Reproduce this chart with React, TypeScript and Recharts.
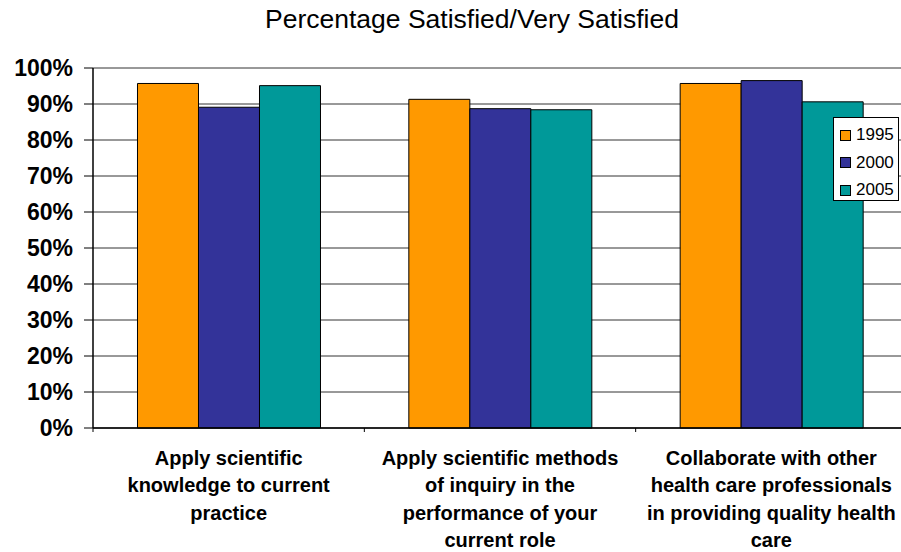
import React from 'react';
import { BarChart, Bar, XAxis, YAxis, CartesianGrid, Legend } from 'recharts';

const categories = ['Apply scientific knowledge', 'Apply scientific methods', 'Collaborate'];
const categoryLines = [
  ['Apply scientific', 'knowledge to current', 'practice'],
  ['Apply scientific methods', 'of inquiry in the', 'performance of your', 'current role'],
  ['Collaborate with other', 'health care professionals', 'in providing quality health', 'care'],
];
const seriesNames = ['1995', '2000', '2005'];
const seriesColors = ['#FF9900', '#333399', '#009999'];
const values1995 = [95.7, 91.3, 95.7];
const values2000 = [89.1, 88.7, 96.5];
const values2005 = [95.1, 88.4, 90.6];
const yTicks = [0, 10, 20, 30, 40, 50, 60, 70, 80, 90, 100];

const FONT = '"Liberation Sans", Arial, Helvetica, sans-serif';

const CHART_W = 930;
const CHART_H = 552;
const MARGIN = { top: 68, right: 23, bottom: 0, left: 0 };
const Y_AXIS_W = 93;
const X_AXIS_H = 124;
const BAND = (CHART_W - MARGIN.left - MARGIN.right - Y_AXIS_W) / categories.length;

const data = categories.map((name, i) => ({
  name,
  s1995: values1995[i],
  s2000: values2000[i],
  s2005: values2005[i],
}));
const seriesKeys = ['s1995', 's2000', 's2005'];

const CategoryTick = (props: any) => {
  const { x, y, payload } = props;
  const idx = categories.indexOf(payload.value);
  const lines = categoryLines[idx] || [];
  return (
    <g>
      {idx === 0 && <line x1={x - BAND / 2} x2={x - BAND / 2} y1={y} y2={y + 4} stroke="#000" />}
      <line x1={x + BAND / 2} x2={x + BAND / 2} y1={y} y2={y + 4} stroke="#000" />
      <text textAnchor="middle" fontFamily={FONT} fontSize={20} fontWeight="bold" fill="#000">
        {lines.map((l, i) => (
          <tspan key={i} x={x} y={y + 37 + i * 27.4}>
            {l}
          </tspan>
        ))}
      </text>
    </g>
  );
};

const LegendBox = () => (
  <div
    style={{
      width: 64,
      height: 82,
      border: '1px solid #000',
      background: '#fff',
      position: 'relative',
      fontFamily: FONT,
      fontSize: 17,
      boxSizing: 'content-box',
    }}
  >
    {seriesNames.map((n, i) => (
      <div
        key={n}
        style={{ position: 'absolute', left: 6, top: 7 + i * 27.5, height: 20, display: 'flex', alignItems: 'center' }}
      >
        <span
          style={{
            display: 'inline-block',
            width: 9,
            height: 9,
            background: seriesColors[i],
            border: '1px solid #000',
            marginRight: 5,
          }}
        />
        <span style={{ lineHeight: '20px' }}>{n}</span>
      </div>
    ))}
  </div>
);

export default function App() {
  return (
    <div style={{ position: 'absolute', left: 0, top: 0, width: 901, height: 552, overflow: 'hidden', background: '#fff' }}>
      <div
        style={{
          position: 'absolute',
          left: 0,
          top: 6,
          width: 944,
          textAlign: 'center',
          fontFamily: FONT,
          fontSize: 26.5,
          lineHeight: '27px',
          color: '#000',
        }}
      >
        Percentage Satisfied/Very Satisfied
      </div>
      <BarChart width={CHART_W} height={CHART_H} data={data} margin={MARGIN} barCategoryGap="16.4%" barGap={0}>
        <CartesianGrid vertical={false} stroke="#333" strokeWidth={1} />
        <XAxis
          dataKey="name"
          interval={0}
          height={X_AXIS_H}
          tickLine={false}
          tickSize={0}
          tickMargin={0}
          axisLine={{ stroke: '#000', strokeWidth: 1.5 }}
          tick={<CategoryTick />}
        />
        <YAxis
          width={Y_AXIS_W}
          domain={[0, 100]}
          ticks={yTicks}
          interval={0}
          tickFormatter={(v: number) => `${v}%`}
          tickSize={9}
          tickMargin={11}
          tickLine={{ stroke: '#000' }}
          axisLine={{ stroke: '#000', strokeWidth: 1.5 }}
          tick={{ fill: '#000', fontSize: 23, fontWeight: 'bold', fontFamily: FONT }}
        />
        <Legend
          layout="vertical"
          align="center"
          verticalAlign="middle"
          content={<LegendBox />}
          wrapperStyle={{ position: 'absolute', left: 833, top: 117, width: 66, height: 84 }}
        />
        {seriesKeys.map((k, i) => (
          <Bar key={k} dataKey={k} name={seriesNames[i]} fill={seriesColors[i]} stroke="#000" strokeWidth={1} isAnimationActive={false} />
        ))}
      </BarChart>
    </div>
  );
}
